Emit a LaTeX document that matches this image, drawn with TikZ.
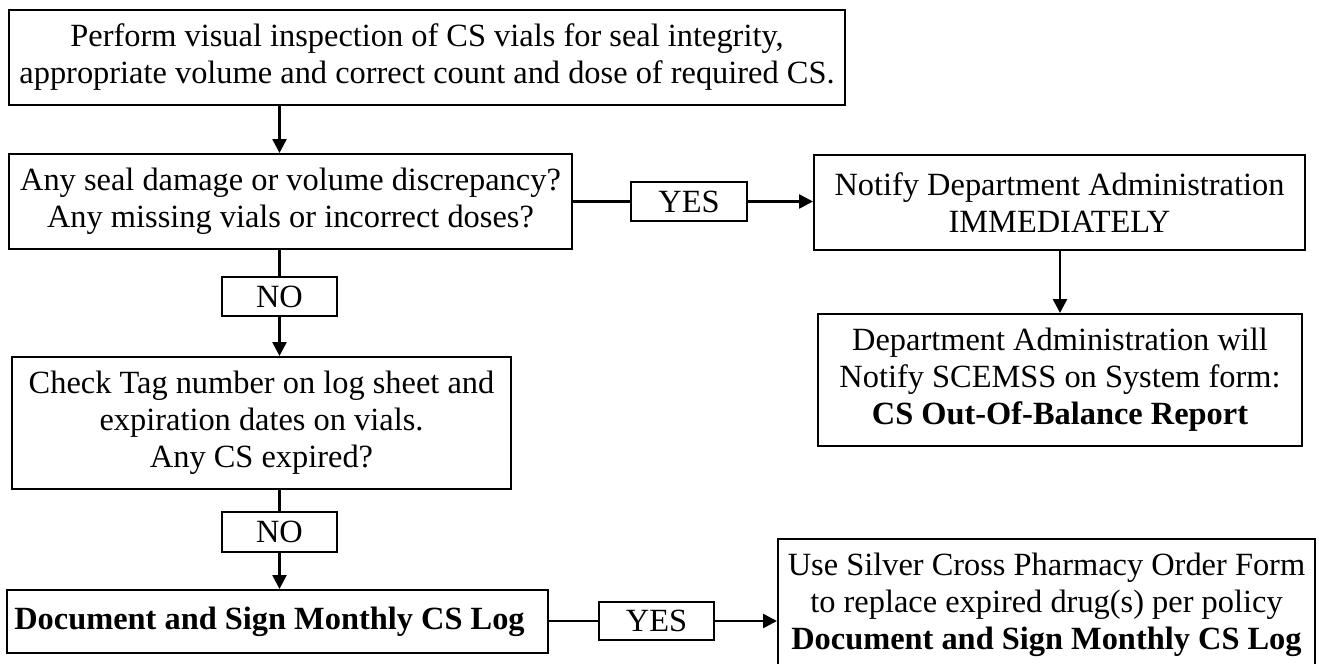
\documentclass[tikz,border=0pt]{standalone}
\usepackage{fontspec}
\setmainfont{Liberation Serif}
\usetikzlibrary{arrows.meta, positioning}
\tikzset{>={Triangle[length=7pt,width=7pt]}}
\tikzset{
  box/.style={draw, line width=1pt, align=center, inner sep=0pt, font=\fontsize{16.2}{18.5}\selectfont},
  tag/.style={draw, line width=0.8pt, inner sep=0pt, font=\fontsize{16.2}{18.5}\selectfont},
  link/.style={line width=1.3pt}
}

\begin{document}
\begin{tikzpicture}[x=0.5pt, y=-0.5pt]
			\useasboundingbox (0,0) rectangle (1319,664);
			% left column
			\node[box, minimum width=418pt, minimum height=47.5pt] (B1) at (427,57.5) {Perform visual inspection of CS vials for seal integrity,\\appropriate volume and correct count and dose of required CS.};
			\node[box, minimum width=281.5pt, minimum height=47.5pt] (B2) at (290.5,201.5) {Any seal damage or volume discrepancy?\\Any missing vials or incorrect doses?};
			\node[tag, minimum width=57.5pt, minimum height=19.5pt] (N1) at (279.5,296.5) {NO};
			\node[box, minimum width=249.5pt, minimum height=66pt] (B5) at (261.5,423) {Check Tag number on log sheet and\\expiration dates on vials.\\Any CS expired?};
			\node[tag, minimum width=57.5pt, minimum height=20pt] (N2) at (279.5,532) {NO};
			\node[box, minimum width=270.5pt, minimum height=31.5pt] (B6) at (277.5,621.5) {\textbf{Document and Sign Monthly CS Log}\hspace*{8pt}};
			% right column
			\node[tag, minimum width=58pt, minimum height=19.5pt] (Y1) at (689,201.5) {YES};
			\node[box, minimum width=245.5pt, minimum height=47.5pt] (B3) at (1059.5,202.5) {Notify Department Administration\\IMMEDIATELY};
			\node[box, minimum width=242pt, minimum height=66pt] (B4) at (1060,380) {Department Administration will\\Notify SCEMSS on System form:\\\textbf{CS Out-Of-Balance Report}};
			\node[tag, minimum width=57.5pt, minimum height=19pt] (Y2) at (656.5,621) {YES};
			\node[box, minimum width=268.5pt, minimum height=66pt] (B7) at (1046.5,605) {Use Silver Cross Pharmacy Order Form\\to replace expired drug(s) per policy\\\textbf{Document and Sign Monthly CS Log}};
			% connectors
			\draw[link, ->] (B1.south -| N1) -- (B2.north -| N1);
			\draw[link] (B2.south -| N1) -- (N1);
			\draw[link, ->] (N1) -- (B5.north -| N1);
			\draw[link] (B5.south -| N2) -- (N2);
			\draw[link, ->] (N2) -- (B6.north -| N2);
			\draw[link] (B2.east |- Y1) -- (Y1);
			\draw[link, ->] (Y1) -- (B3.west |- Y1);
			\draw[link, ->] (B3.south -| B4) -- (B4);
			\draw[link] (B6.east |- Y2) -- (Y2);
			\draw[link, ->] (Y2) -- (B7.west |- Y2);
		\end{tikzpicture}
\end{document}
